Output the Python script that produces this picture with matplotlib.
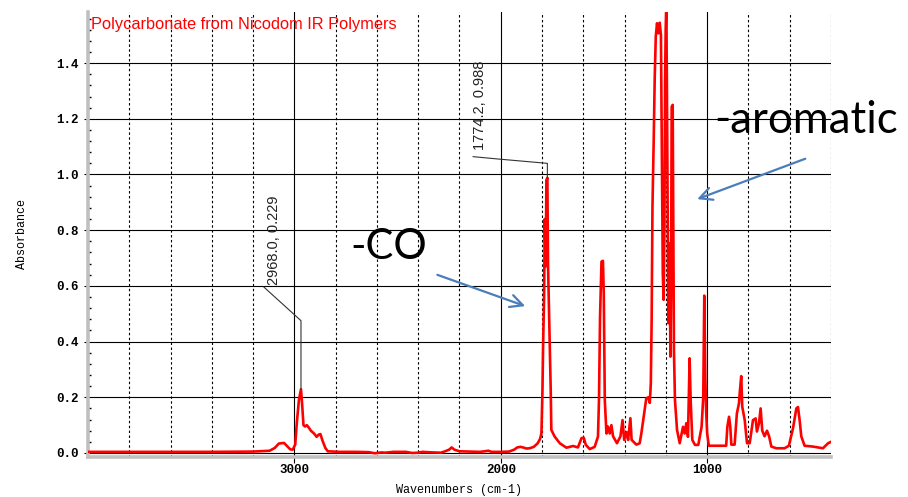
import matplotlib
matplotlib.use("Agg")
import matplotlib.pyplot as plt
import numpy as np

# spectrum (wavenumber cm-1, absorbance)
wavenumbers = [
    4000, 3800, 3600, 3400, 3200, 3120, 3095, 3075, 3050, 3036, 3020, 3008,
    2996, 2988, 2978, 2968, 2962, 2956, 2948, 2940, 2932, 2920, 2905, 2892,
    2882, 2874, 2864, 2850, 2838, 2780, 2700, 2640, 2610, 2580, 2560, 2520,
    2460, 2430, 2400, 2380, 2330, 2290, 2270, 2250, 2238, 2225, 2200, 2150,
    2100, 2060, 2045, 2000, 1960, 1935, 1920, 1905, 1893, 1875, 1860, 1840,
    1821, 1810, 1803, 1798, 1795, 1790, 1787, 1782, 1779, 1774.2, 1771, 1766,
    1763, 1758, 1755, 1739, 1714, 1682, 1650, 1626, 1609, 1598, 1588, 1569,
    1545, 1529, 1524, 1519, 1512, 1505, 1501, 1496, 1488, 1481, 1472, 1464,
    1456, 1437, 1420, 1410, 1402, 1391, 1383, 1372, 1366, 1343, 1327, 1319,
    1303, 1295, 1285, 1278, 1273, 1269, 1265, 1259, 1254, 1249, 1243, 1236,
    1230, 1224, 1219, 1215, 1211, 1207, 1204, 1201, 1198, 1195, 1191, 1188,
    1185, 1182, 1178, 1175, 1172, 1167, 1164, 1161, 1156, 1146, 1133, 1117,
    1109, 1101, 1093, 1085, 1080, 1072, 1059, 1043, 1027, 1019, 1014, 1009,
    1005, 1000, 992, 960, 930, 908, 902, 894, 888, 883, 867, 856,
    846, 841, 835, 830, 818, 807, 794, 778, 765, 759, 749, 741,
    733, 722, 710, 700, 689, 665, 625, 604, 584, 568, 560, 552,
    544, 528, 488, 439, 414, 400,
]
absorbance = [
    0.004, 0.004, 0.004, 0.004, 0.005, 0.008, 0.018, 0.034, 0.036, 0.025, 0.013, 0.012,
    0.030, 0.110, 0.190, 0.229, 0.170, 0.100, 0.095, 0.100, 0.093, 0.080, 0.070, 0.058,
    0.066, 0.068, 0.045, 0.018, 0.006, 0.004, 0.004, 0.003, -0.001, 0.002, 0.001, 0.004,
    0.004, 0.000, 0.001, 0.004, 0.002, 0.001, 0.006, 0.012, 0.020, 0.012, 0.006, 0.005,
    0.004, 0.008, 0.004, 0.004, 0.005, 0.012, 0.020, 0.022, 0.020, 0.016, 0.017, 0.022,
    0.035, 0.050, 0.070, 0.226, 0.380, 0.567, 0.840, 0.670, 0.980, 0.988, 0.675, 0.500,
    0.406, 0.226, 0.083, 0.059, 0.035, 0.019, 0.025, 0.020, 0.053, 0.055, 0.029, 0.014,
    0.022, 0.059, 0.196, 0.490, 0.687, 0.690, 0.573, 0.190, 0.070, 0.095, 0.070, 0.100,
    0.060, 0.035, 0.060, 0.118, 0.047, 0.075, 0.047, 0.125, 0.047, 0.030, 0.035, 0.070,
    0.154, 0.196, 0.200, 0.180, 0.250, 0.478, 0.884, 1.124, 1.351, 1.495, 1.543, 1.507,
    1.545, 1.500, 1.052, 0.646, 0.550, 0.810, 1.330, 1.520, 1.620, 1.315, 0.790, 0.466,
    0.753, 0.700, 0.346, 0.585, 1.243, 1.250, 0.790, 0.370, 0.190, 0.083, 0.035, 0.094,
    0.070, 0.107, 0.058, 0.340, 0.190, 0.047, 0.029, 0.029, 0.094, 0.200, 0.565, 0.274,
    0.150, 0.070, 0.026, 0.026, 0.026, 0.026, 0.095, 0.130, 0.095, 0.030, 0.030, 0.142,
    0.178, 0.226, 0.276, 0.166, 0.118, 0.035, 0.035, 0.118, 0.124, 0.077, 0.106, 0.160,
    0.080, 0.060, 0.080, 0.060, 0.023, 0.017, 0.017, 0.026, 0.089, 0.160, 0.165, 0.118,
    0.060, 0.026, 0.023, 0.017, 0.035, 0.040,
]

y_ticks = [0.0, 0.2, 0.4, 0.6, 0.8, 1.0, 1.2, 1.4]
x_ticks = [3000, 2000, 1000]
x_dashed = [3800, 3600, 3400, 3200, 2800, 2600, 2400, 2200,
            1800, 1600, 1400, 1200, 800, 600, 400]

# marked peaks: (wavenumber, absorbance)
peak_ch = (2968.0, 0.229)
peak_co = (1774.2, 0.988)

mono = "Liberation Mono"
arrow_blue = "#4a7ebb"

fig = plt.figure(figsize=(9.08, 4.97), dpi=100)
ax = fig.add_axes([0.0969, 0.0805, 0.8183, 0.8954])

ax.set_xlim(4000, 400)
ax.set_ylim(-0.0144, 1.5835)

# grid
for y in y_ticks:
    ax.axhline(y, color="black", lw=0.8, zorder=1)
for x in x_ticks:
    ax.axvline(x, color="black", lw=0.8, zorder=1)
for x in x_dashed:
    ax.axvline(x, color="black", lw=0.8, ls=(0, (2.2, 2.2)), zorder=1)

ax.plot(wavenumbers, absorbance, color="#ff0000", lw=1.9, zorder=3)

# axes style
for side in ("top", "right"):
    ax.spines[side].set_visible(False)
for side in ("left", "bottom"):
    ax.spines[side].set_color("#c0c0c0")
    ax.spines[side].set_linewidth(2.6)

ax.set_xticks(x_ticks)
ax.set_xticklabels([str(x) for x in x_ticks])
ax.set_yticks(y_ticks)
ax.set_yticklabels([f"{y:.1f}" for y in y_ticks])
ax.set_yticks(np.arange(0, 1.58, 0.04), minor=True)
ax.tick_params(axis="y", which="major", length=3, width=0.8, color="black", pad=4)
ax.tick_params(axis="y", which="minor", length=2, width=1.0, color="black", direction="in")
ax.tick_params(axis="x", which="major", length=4, width=0.8, color="black", pad=1)
for lab in ax.get_xticklabels() + ax.get_yticklabels():
    lab.set_fontfamily(mono)
    lab.set_fontweight("bold")
    lab.set_fontsize(9)

ax.set_xlabel("Wavenumbers (cm-1)", fontfamily=mono, fontsize=8.5, labelpad=6)
ax.set_ylabel("Absorbance", fontfamily=mono, fontsize=8.5, labelpad=20)

ax.text(3985, 1.537, "Polycarbonate from Nicodom IR Polymers", color="#ff0000",
        fontsize=11.8, family="Liberation Sans", va="center", ha="left")

# peak labels with leader lines
ax.plot([peak_ch[0], peak_ch[0], 3148], [peak_ch[1], 0.475, 0.596],
        color="#333333", lw=0.8, zorder=4)
ax.text(3099, 0.603, f"{peak_ch[0]:.1f}, {peak_ch[1]:.3f}", rotation=90,
        ha="center", va="bottom", fontsize=10.5, family="Liberation Sans", color="#222222")
ax.plot([peak_co[0], peak_co[0], 2005, 2134], [peak_co[1], 1.040, 1.055, 1.064],
        color="#333333", lw=0.8, zorder=4)
ax.text(2102, 1.088, f"{peak_co[0]:.1f}, {peak_co[1]:.3f}", rotation=90,
        ha="center", va="bottom", fontsize=10.5, family="Liberation Sans", color="#222222")

# slide annotations
ax.text(2731, 0.74, "-CO", fontsize=30, family="Lato", va="center", ha="left")
ax.annotate("", xy=(1869, 0.524), xytext=(2320, 0.643),
            arrowprops=dict(arrowstyle="->,head_length=0.9,head_width=0.45",
                            color=arrow_blue, lw=1.6))
ax.text(964, 1.149, "-aromatic", fontsize=31.5, family="Lato", va="baseline",
        ha="left", clip_on=False)
ax.annotate("", xy=(1061, 0.908), xytext=(512, 1.06),
            arrowprops=dict(arrowstyle="->,head_length=0.9,head_width=0.45",
                            color=arrow_blue, lw=1.6))

fig.savefig("out.png", dpi=100)
